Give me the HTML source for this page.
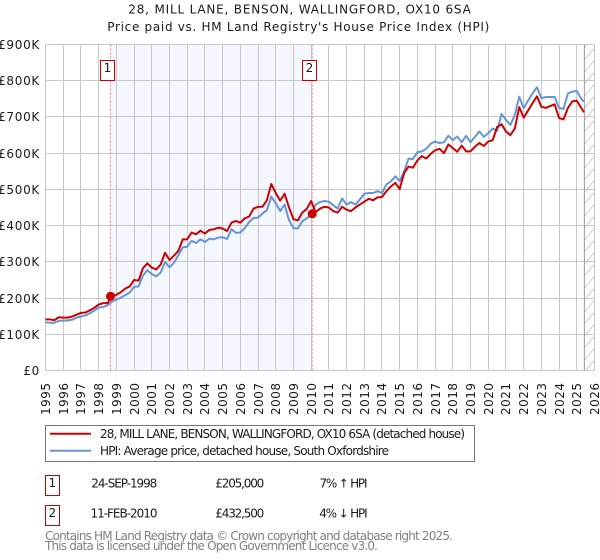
<!DOCTYPE html>
<html lang="en">
<head>
<meta charset="utf-8">
<title>28, MILL LANE, BENSON, WALLINGFORD, OX10 6SA</title>
<style>
html,body{margin:0;padding:0;background:#fff;width:600px;height:560px;overflow:hidden}
svg{display:block;position:absolute;left:0;top:0}
text{font-family:"DejaVu Sans","Liberation Sans",sans-serif;font-size:12px;fill:#1a1a1a}
</style>
</head>
<body>
<svg id="chart" width="600" height="560" viewBox="0 0 600 560" xmlns="http://www.w3.org/2000/svg">
  <defs>
    <pattern id="hatch" width="10" height="12" patternUnits="userSpaceOnUse" x="584.5" y="0">
      <line x1="0" y1="12" x2="10" y2="0" stroke="#c8c8c8" stroke-width="1"/>
    </pattern>
  </defs>
  <text x="128.3" y="13.5" textLength="342.5" style="font-size:12px">28, MILL LANE, BENSON, WALLINGFORD, OX10 6SA</text>
  <text x="107.3" y="31" textLength="382" style="font-size:12px">Price paid vs. HM Land Registry's House Price Index (HPI)</text>
  <g id="plot"></g>

  <g>
    <rect x="45.5" y="425.5" width="429" height="36" fill="#fff" stroke="#777" stroke-width="1"/>
    <line x1="50" y1="433.7" x2="91" y2="433.7" stroke="#cc0000" stroke-width="2"/>
    <text x="100" y="438" textLength="365">28, MILL LANE, BENSON, WALLINGFORD, OX10 6SA (detached house)</text>
    <line x1="50" y1="450.7" x2="91" y2="450.7" stroke="#6495d6" stroke-width="2"/>
    <text x="100" y="455" textLength="289">HPI: Average price, detached house, South Oxfordshire</text>
  </g>

  <g>
    <rect x="45.5" y="475.5" width="14" height="20" fill="#fff" stroke="#cc0000" stroke-width="1"/>
    <text x="52.3" y="487" text-anchor="middle">1</text>
    <text x="91.3" y="487.3" textLength="66">24-SEP-1998</text>
    <text x="215.3" y="487.3" textLength="49">£205,000</text>
    <text x="319.5" y="487.3" textLength="48">7% ↑ HPI</text>

    <rect x="45.5" y="505.5" width="14" height="20" fill="#fff" stroke="#cc0000" stroke-width="1"/>
    <text x="52.3" y="517" text-anchor="middle">2</text>
    <text x="90.5" y="517.3" textLength="67">11-FEB-2010</text>
    <text x="215.3" y="517.3" textLength="49">£432,500</text>
    <text x="319.2" y="517.3" textLength="48.5">4% ↓ HPI</text>
  </g>

  <text x="45" y="540" textLength="408" style="fill:#808080">Contains HM Land Registry data © Crown copyright and database right 2025.</text>
  <text x="45" y="550" textLength="333" style="fill:#808080">This data is licensed under the Open Government Licence v3.0.</text>
</svg>

<script>
const yearLabels = [1995,1996,1997,1998,1999,2000,2001,2002,2003,2004,2005,2006,2007,2008,2009,2010,2011,2012,2013,2014,2015,2016,2017,2018,2019,2020,2021,2022,2023,2024,2025,2026];
const priceTicks = [0,100,200,300,400,500,600,700,800,900];
const priceTickLabels = ["£0","£100K","£200K","£300K","£400K","£500K","£600K","£700K","£800K","£900K"];

const dates = [
1995,1995.25,1995.5,1995.75,1996,1996.25,1996.5,1996.75,1997,1997.25,1997.5,1997.75,
1998,1998.25,1998.5,1998.75,1999,1999.25,1999.5,1999.75,2000,2000.25,2000.5,2000.75,
2001,2001.25,2001.5,2001.75,2002,2002.25,2002.5,2002.75,2003,2003.25,2003.5,2003.75,
2004,2004.25,2004.5,2004.75,2005,2005.25,2005.5,2005.75,2006,2006.25,2006.5,2006.75,
2007,2007.25,2007.5,2007.75,2008,2008.25,2008.5,2008.75,2009,2009.25,2009.5,2009.75,
2010,2010.25,2010.5,2010.75,2011,2011.25,2011.5,2011.75,2012,2012.25,2012.5,2012.75,
2013,2013.25,2013.5,2013.75,2014,2014.25,2014.5,2014.75,2015,2015.25,2015.5,2015.75,
2016,2016.25,2016.5,2016.75,2017,2017.25,2017.5,2017.75,2018,2018.25,2018.5,2018.75,
2019,2019.25,2019.5,2019.75,2020,2020.25,2020.5,2020.75,2021,2021.25,2021.5,2021.75,
2022,2022.25,2022.5,2022.75,2023,2023.25,2023.5,2023.75,2024,2024.25,2024.5,2024.75,
2025,2025.25,2025.4];

const pricePaid = [
141,141,139,147,146,146,149,154,159,160,166,173,
182,186,186,205,209,216,226,232,250,248,282,296,
284,279,292,325,305,317,330,362,362,381,376,386,
378,388,390,394,392,385,408,413,408,420,425,447,
452,452,470,515,490,469,488,450,418,414,436,446,
468,437,447,452,450,440,436,452,444,440,450,458,
466,474,470,478,479,495,508,518,501,545,563,560,
580,592,585,598,608,612,600,624,614,604,621,605,
605,618,628,620,632,636,672,680,660,650,668,727,
698,718,738,757,728,725,730,735,697,693,725,743,
745,725,713];

const hpiValues = [
133,132,132,137,138,138,140,146,149,152,158,165,
174,175,180,190,196,201,208,215,231,232,262,277,
266,260,270,300,285,297,318,340,342,358,352,362,
355,364,362,367,368,363,390,380,381,393,410,421,
422,433,443,480,462,440,458,415,393,392,412,420,
430,458,465,468,466,456,447,475,458,465,458,472,
488,490,490,495,490,514,522,536,523,550,585,584,
603,605,612,626,632,628,630,648,636,646,630,648,
630,645,660,645,655,668,662,708,692,678,705,756,
724,745,765,782,752,755,755,755,725,722,765,770,
772,750,742];

const saleLabels = ["1","2"];
const saleDates = [1998.67,2010.06];
const salePrices = [205,432.5];

const dataEndYear = 2025.4;

const SVGNS = "http://www.w3.org/2000/svg";
const plot = document.getElementById("plot");
const left = 45.5, right = 594.5, top_ = 44.5, bottom = 370.5;
const yearMin = 1995, yearMax = 2026, priceMin = 0, priceMax = 900;

function xScale(year){ return left + (year - yearMin) * (right - left) / (yearMax - yearMin); }
function yScale(price){ return bottom - (price - priceMin) * (bottom - top_) / (priceMax - priceMin); }
function make(tag, attrs){
  const el = document.createElementNS(SVGNS, tag);
  for (const k in attrs) el.setAttribute(k, attrs[k]);
  plot.appendChild(el);
  return el;
}
function snap(v){ return Math.round(v - 0.5) + 0.5; }

// Shaded span between the two sales
const band = make("rect", {x:xScale(saleDates[0]), y:top_, width:xScale(saleDates[1])-xScale(saleDates[0]), height:bottom-top_, fill:"#f4f7fe"});



// Hatched no-data region
const hatch = make("rect", {x:xScale(dataEndYear)+0.5, y:top_, width:right-xScale(dataEndYear)-0.5, height:bottom-top_, fill:"url(#hatch)"});



// Grid and tick labels
yearLabels.forEach(function(year){
  const x = snap(xScale(year));
  const g = make("line", {x1:x, x2:x, y1:top_, y2:bottom, stroke:"#c8c8c8", "stroke-width":1});
  
  
  const t = make("text", {x:x+4.5, y:415, transform:"rotate(-90 "+(x+4.5)+" 415)", textLength:32});
  t.textContent = year;
  
  
});
priceTicks.forEach(function(price, i){
  const y = snap(yScale(price));
  const g = make("line", {x1:left, x2:right, y1:y, y2:y, stroke:"#c8c8c8", "stroke-width":1});
  
  
  const t = make("text", {x:40, y:y+4.5, "text-anchor":"end"});
  t.style.letterSpacing = "0.7px";
  t.textContent = priceTickLabels[i];
  
  
});

// Data end marker
const endLine = make("line", {x1:xScale(dataEndYear)+0.5, x2:xScale(dataEndYear)+0.5, y1:top_, y2:bottom, stroke:"#999", "stroke-width":1});



// Sale vertical dotted lines
saleDates.forEach(function(d){
  const x = xScale(d);
  const l = make("line", {x1:x, x2:x, y1:top_, y2:bottom, stroke:"#f47c86", "stroke-width":1, "stroke-dasharray":"2 2"});
  
  
});

function linePath(values){
  return values.map(function(v, i){
    return (i ? "L" : "M") + xScale(dates[i]).toFixed(2) + " " + yScale(v).toFixed(2);
  }).join(" ");
}

const hpiLine = make("path", {d:linePath(hpiValues), fill:"none", stroke:"#6495d6", "stroke-width":2, "stroke-linejoin":"round"});



const priceLine = make("path", {d:linePath(pricePaid), fill:"none", stroke:"#cc0000", "stroke-width":2, "stroke-linejoin":"round"});



// Sale points and numbered badges
saleDates.forEach(function(d, i){
  const x = xScale(d);
  const dot = make("circle", {cx:x, cy:yScale(salePrices[i]), r:4.5, fill:"#cc0000"});
  
  
  const box = make("rect", {x:snap(x-10), y:60.5, width:14, height:20, fill:"#fff", stroke:"#cc0000", "stroke-width":1});
  
  
  const t = make("text", {x:snap(x-10)+7, y:72, "text-anchor":"middle"});
  t.textContent = saleLabels[i];
  
  
});
</script>
</body>
</html>
